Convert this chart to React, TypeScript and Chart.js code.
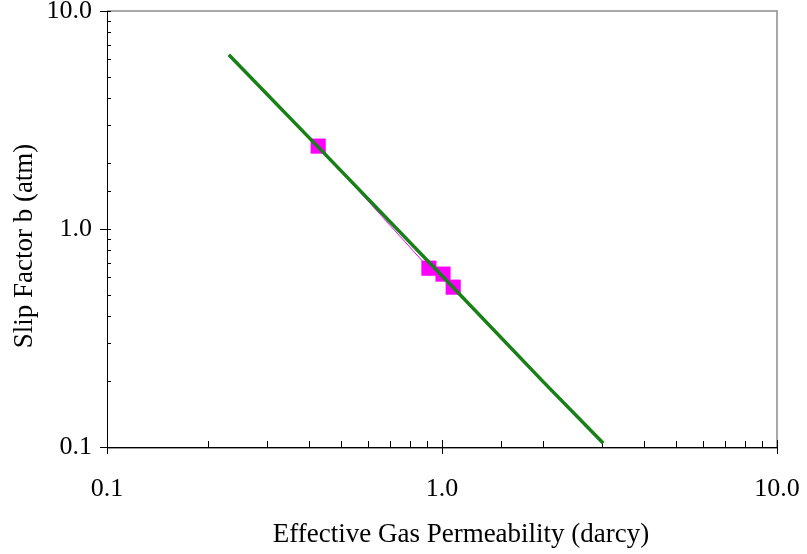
import React, { useEffect, useRef } from "react";
import { Chart, registerables } from "chart.js";
Chart.register(...registerables);

const measuredPermeability = [0.427, 0.914, 1.007, 1.08];
const measuredSlipFactor = [2.4, 0.661, 0.621, 0.541];
const fitPermeability = [0.231, 0.43, 1.0, 2.0, 3.03];
const fitSlipFactor = [6.3, 2.35, 0.61, 0.2, 0.104];
const axisMin = 0.1;
const axisMax = 10;
const xTitle = "Effective Gas Permeability (darcy)";
const yTitle = "Slip Factor b (atm)";

const FONT = "Liberation Serif, Times New Roman, serif";

const isPow10 = (v: number) => Math.abs(Math.log10(v) - Math.round(Math.log10(v))) < 1e-6;

const framePlugin = {
  id: "frame",
  beforeDatasetsDraw(chart: any) {
    const { ctx, chartArea } = chart;
    const { left, right, top, bottom } = chartArea;
    const xs = chart.scales.x;
    const ys = chart.scales.y;
    ctx.save();
    ctx.strokeStyle = "#8c8c8c";
    ctx.lineWidth = 1.5;
    ctx.beginPath();
    ctx.moveTo(left, top);
    ctx.lineTo(right, top);
    ctx.lineTo(right, bottom);
    ctx.stroke();
    ctx.strokeStyle = "#999";
    ctx.lineWidth = 1;
    ctx.beginPath();
    ctx.moveTo(left, bottom + 1.5);
    ctx.lineTo(right, bottom + 1.5);
    ctx.stroke();
    ctx.strokeStyle = "#000";
    ctx.lineWidth = 1;
    ctx.beginPath();
    ctx.moveTo(left + 0.5, top);
    ctx.lineTo(left + 0.5, bottom);
    ctx.moveTo(left, bottom + 0.5);
    ctx.lineTo(right, bottom + 0.5);
    ctx.stroke();
    ctx.beginPath();
    xs.ticks.forEach((t: any) => {
      const px = Math.round(xs.getPixelForValue(t.value)) + 0.5;
      if (isPow10(t.value)) {
        ctx.moveTo(px, bottom - 7);
        ctx.lineTo(px, bottom + 7);
      } else {
        ctx.moveTo(px, bottom);
        ctx.lineTo(px, bottom - 6);
      }
    });
    ys.ticks.forEach((t: any) => {
      const py = Math.round(ys.getPixelForValue(t.value)) + 0.5;
      if (isPow10(t.value)) {
        ctx.moveTo(left - 7, py);
        ctx.lineTo(left + 4, py);
      } else {
        ctx.moveTo(left, py);
        ctx.lineTo(left + 4, py);
      }
    });
    ctx.stroke();
    ctx.restore();
  },
  afterDraw(chart: any) {
    const { ctx } = chart;
    ctx.save();
    ctx.fillStyle = "#000";
    ctx.font = `27px ${FONT}`;
    ctx.textAlign = "center";
    ctx.textBaseline = "middle";
    ctx.fillText(xTitle, 461, 535);
    ctx.translate(25, 246);
    ctx.rotate(-Math.PI / 2);
    ctx.fillText(yTitle, 0, 0);
    ctx.restore();
  },
};

export default function App() {
  const ref = useRef<HTMLCanvasElement | null>(null);
  useEffect(() => {
    document.body.style.margin = "0";
    const chart = new Chart(ref.current as HTMLCanvasElement, {
      type: "scatter",
      data: {
        datasets: [
          {
            label: "Fit",
            data: fitPermeability.map((x, i) => ({ x, y: fitSlipFactor[i] })),
            showLine: true,
            borderColor: "#178017",
            borderWidth: 3.5,
            pointRadius: 0,
            pointHoverRadius: 0,
            order: 0,
          },
          {
            label: "Measured",
            data: measuredPermeability.map((x, i) => ({ x, y: measuredSlipFactor[i] })),
            showLine: true,
            borderColor: "#ff00ff",
            borderWidth: 1,
            backgroundColor: "#ff00ff",
            pointStyle: "rect",
            pointRadius: 10.7,
            pointBorderWidth: 0,
            order: 1,
          },
        ],
      },
      options: {
        animation: false,
        responsive: false,
        layout: { padding: { top: 11, right: 30, left: 0, bottom: 0 } },
        plugins: { legend: { display: false }, tooltip: { enabled: false } },
        scales: {
          x: {
            type: "logarithmic",
            min: axisMin,
            max: axisMax,
            grid: { display: false, drawTicks: false },
            border: { display: false },
            ticks: {
              autoSkip: false,
              maxRotation: 0,
              padding: 27,
              color: "#000",
              font: { family: FONT, size: 26 },
              callback: (v: any) => (isPow10(Number(v)) ? Number(v).toFixed(1) : ""),
            },
            afterFit: (s: any) => {
              s.height = 107;
              s.paddingLeft = 0;
              s.paddingRight = 0;
            },
          },
          y: {
            type: "logarithmic",
            min: axisMin,
            max: axisMax,
            grid: { display: false, drawTicks: false },
            border: { display: false },
            ticks: {
              autoSkip: false,
              padding: 15,
              color: "#000",
              font: { family: FONT, size: 26 },
              callback: (v: any) => (isPow10(Number(v)) ? Number(v).toFixed(1) : ""),
            },
            afterFit: (s: any) => {
              s.width = 107;
              s.paddingTop = 0;
              s.paddingBottom = 0;
            },
          },
        },
      },
      plugins: [framePlugin],
    } as any);
    return () => chart.destroy();
  }, []);
  return (
    <div style={{ position: "absolute", left: 0, top: 0, width: 807, height: 554 }}>
      <canvas ref={ref} width={807} height={554} style={{ display: "block" }} />
    </div>
  );
}
